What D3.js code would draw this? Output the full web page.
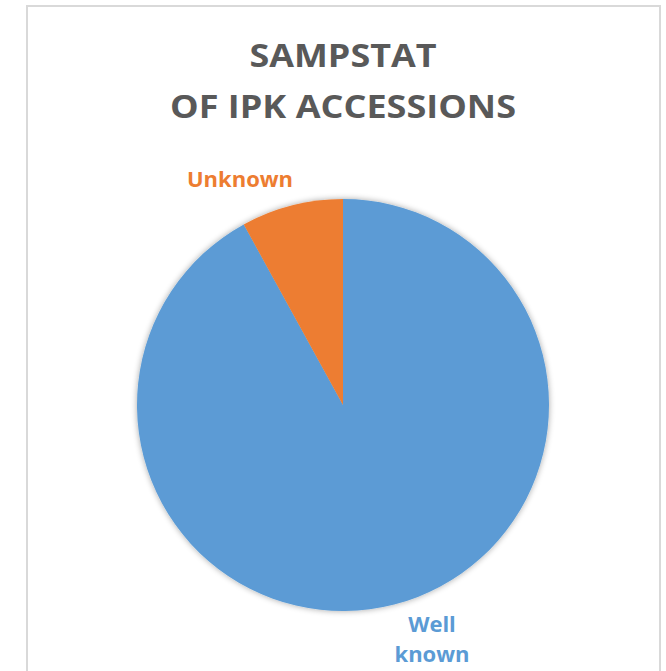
<!DOCTYPE html>
<html>
<head>
<meta charset="utf-8">
<script src="https://cdn.jsdelivr.net/npm/d3@7"></script>
<style>
  body { margin: 0; background: #fff; }
  text { font-family: "Open Sans", sans-serif; font-weight: bold; }
</style>
</head>
<body>
<svg width="666" height="671"></svg>
<script>
const categories = ['Well known', 'Unknown'];
const values = [92, 8];
const colors = ['#5B9BD5', '#ED7D31'];
const titleLines = ['SAMPSTAT', 'OF IPK ACCESSIONS'];
const titleWidths = [187, 346];

const svg = d3.select('svg');

// chart frame
svg.append('rect')
  .attr('x', 27).attr('y', 6)
  .attr('width', 633).attr('height', 700)
  .attr('fill', '#fff')
  .attr('stroke', '#d9d9d9')
  .attr('stroke-width', 2);

// soft shadow for the pie
const defs = svg.append('defs');
const f = defs.append('filter').attr('id', 'shadow')
  .attr('x', '-10%').attr('y', '-10%').attr('width', '120%').attr('height', '120%');
f.append('feGaussianBlur').attr('in', 'SourceAlpha').attr('stdDeviation', 3);
f.append('feOffset').attr('dx', 0).attr('dy', 0).attr('result', 'blur');
f.append('feComponentTransfer').append('feFuncA').attr('type', 'linear').attr('slope', 0.35);
const m = f.append('feMerge');
m.append('feMergeNode');
m.append('feMergeNode').attr('in', 'SourceGraphic');

// title
svg.append('g').selectAll('text')
  .data(titleLines).enter()
  .append('text')
    .attr('x', 343)
    .attr('y', (d, i) => 67 + i * 51)
    .attr('text-anchor', 'middle')
    .attr('font-size', 33)
    .attr('textLength', (d, i) => titleWidths[i])
    .attr('lengthAdjust', 'spacingAndGlyphs')
    .attr('fill', '#595959')
    .text(d => d);

const cx = 343, cy = 405, radius = 206;
const data = categories.map((c, i) => ({ name: c, value: values[i], color: colors[i] }));

const pie = d3.pie().sort(null).value(d => d.value);
const arc = d3.arc().innerRadius(0).outerRadius(radius);

const g = svg.append('g')
  .attr('transform', `translate(${cx},${cy})`);

g.append('g').attr('filter', 'url(#shadow)')
  .selectAll('path')
  .data(pie(data)).enter()
  .append('path')
    .attr('d', arc)
    .attr('fill', d => d.data.color);

// data labels
const labels = [
  { name: 'Unknown', lines: ['Unknown'], x: 240, y: 187 },
  { name: 'Well known', lines: ['Well', 'known'], x: 432, y: 632 }
];
labels.forEach(l => {
  const col = colors[categories.indexOf(l.name)];
  svg.append('text')
    .attr('text-anchor', 'middle')
    .attr('font-size', 22)
    .attr('fill', col)
    .selectAll('tspan')
    .data(l.lines).enter()
    .append('tspan')
      .attr('x', l.x)
      .attr('y', (d, i) => l.y + i * 30)
      .text(d => d);
});
</script>
</body>
</html>
